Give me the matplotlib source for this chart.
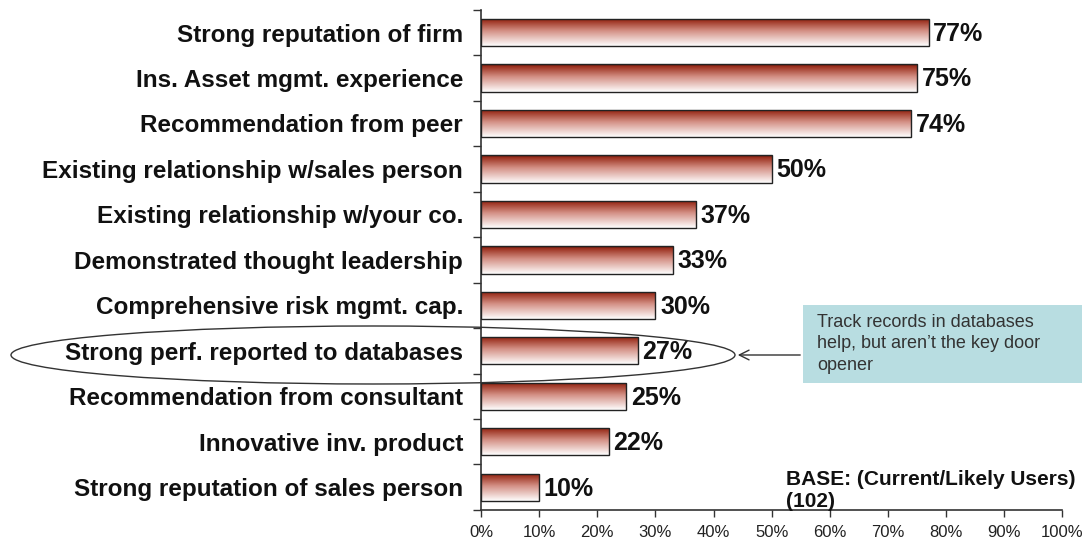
import matplotlib.pyplot as plt
import numpy as np
from matplotlib.colors import LinearSegmentedColormap
from matplotlib.patches import Ellipse, FancyBboxPatch
from matplotlib.ticker import FixedLocator, PercentFormatter

categories = [
    "Strong reputation of firm",
    "Ins. Asset mgmt. experience",
    "Recommendation from peer",
    "Existing relationship w/sales person",
    "Existing relationship w/your co.",
    "Demonstrated thought leadership",
    "Comprehensive risk mgmt. cap.",
    "Strong perf. reported to databases",
    "Recommendation from consultant",
    "Innovative inv. product",
    "Strong reputation of sales person",
]
values = [77, 75, 74, 50, 37, 33, 30, 27, 25, 22, 10]

plt.rcParams['font.family'] = ['Liberation Sans', 'DejaVu Sans']

fig = plt.figure(figsize=(10.84, 5.46), dpi=100)
ax = fig.add_axes([0.4437, 0.066, 0.5363, 0.916])

# red-to-white vertical fade for the bars
fade = LinearSegmentedColormap.from_list(
    "fade", [(0.0, "#5e1408"), (0.08, "#9a2e1c"), (0.45, "#d38f84"), (1.0, "#ffffff")])
grad = np.linspace(0, 1, 256).reshape(-1, 1)

y = np.arange(len(categories))
bar_h = 0.6
bars = ax.barh(y, values, height=bar_h, color="none", edgecolor="#222222", linewidth=1.0, zorder=3)
for b, v in zip(bars, values):
    x0, y0 = b.get_x(), b.get_y()
    im = ax.imshow(grad, cmap=fade, aspect="auto", interpolation="bilinear",
                   extent=[x0, x0 + v, y0 + bar_h, y0], zorder=2)
    im.set_clip_path(b)
    ax.text(v + 0.8, y0 + bar_h / 2 + 0.03, f"{v}%", va="center", ha="left",
            fontsize=18, fontweight="bold", color="#111111")

ax.set_xlim(0, 100)
ax.set_ylim(len(categories) - 0.5, -0.5)
ax.set_yticks(y)
ax.set_yticklabels(categories, fontsize=17.5, fontweight="bold", color="#111111")
ax.tick_params(axis="y", which="major", length=0, pad=13)
ax.yaxis.set_minor_locator(FixedLocator(np.arange(-0.5, len(categories), 1.0)))
ax.tick_params(axis="y", which="minor", length=6, width=1.0, direction="out", color="#333333")

ax.set_xticks(np.arange(0, 101, 10))
ax.xaxis.set_major_formatter(PercentFormatter(decimals=0))
ax.tick_params(axis="x", length=5, width=1.0, color="#333333", labelsize=12, labelcolor="#222222", pad=6)

for s in ["top", "right"]:
    ax.spines[s].set_visible(False)
for s in ["left", "bottom"]:
    ax.spines[s].set_color("#333333")
    ax.spines[s].set_linewidth(1.2)

ax.text(52.5, 10.07, "BASE: (Current/Likely Users)\n(102)", fontsize=15, fontweight="bold",
        ha="left", va="center", color="#111111", linespacing=1.2)

# callout around the databases row
ell = Ellipse((373 / 1084, 1 - 355 / 546), 724 / 1084, 58 / 546, transform=fig.transFigure,
              fill=False, edgecolor="#333333", linewidth=1.0, zorder=5)
fig.add_artist(ell)

box = FancyBboxPatch((803 / 1084, 1 - 383 / 546), 279 / 1084, 78 / 546, boxstyle="square,pad=0",
                     transform=fig.transFigure, facecolor="#b8dde1", edgecolor="none", zorder=4)
fig.add_artist(box)
fig.text(817 / 1084, 1 - 344 / 546, "Track records in databases\nhelp, but aren\u2019t the key door\nopener",
         fontsize=13, ha="left", va="center", color="#333333", linespacing=1.35, zorder=6)

ax.annotate("", xy=(735 / 1084, 1 - 355 / 546), xycoords="figure fraction",
            xytext=(803 / 1084, 1 - 355 / 546), textcoords="figure fraction",
            arrowprops=dict(arrowstyle="->,head_length=0.7,head_width=0.35", color="#333333", lw=1.0))

fig.savefig("out.png", dpi=100)
